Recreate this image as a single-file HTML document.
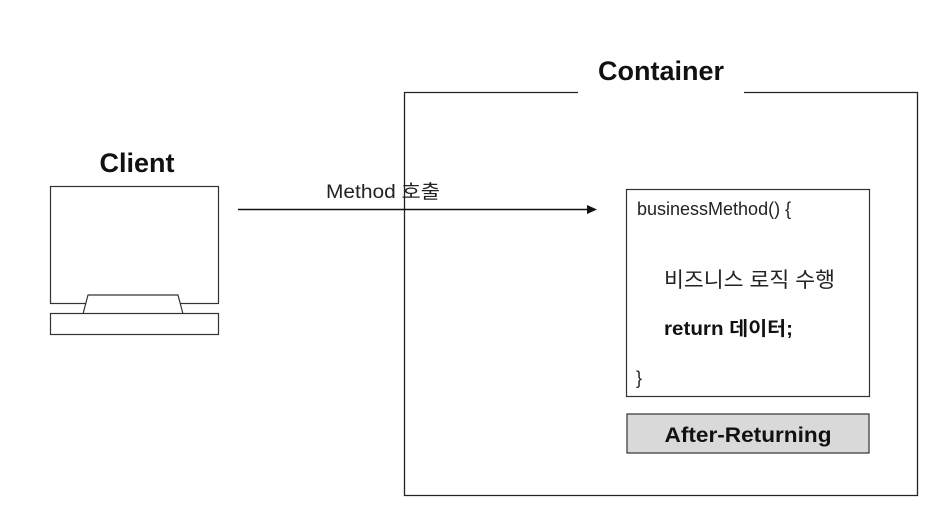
<!DOCTYPE html>
<html><head><meta charset="utf-8"><style>
body{margin:0;background:#fff;}
svg text{font-family:"Liberation Sans","Noto Sans CJK KR",sans-serif;}
</style></head><body>
<svg width="935" height="524" xmlns="http://www.w3.org/2000/svg">
<rect x="0" y="0" width="935" height="524" fill="#fff"/>
<path d="M578,92.5 H404.5 V495.5 H917.5 V92.5 H744" fill="none" stroke="#222" stroke-width="1.3"/>
<text x="661" y="80" font-size="27" font-weight="bold" text-anchor="middle" fill="#111">Container</text>
<text x="137" y="172" font-size="27" font-weight="bold" text-anchor="middle" fill="#111">Client</text>
<rect x="50.5" y="186.5" width="168" height="117" fill="none" stroke="#333" stroke-width="1.2"/>
<path d="M83,314 L88,295 H178 L183,314" fill="#fff" stroke="#333" stroke-width="1.2"/>
<rect x="50.5" y="313.5" width="168" height="21" fill="#fff" stroke="#333" stroke-width="1.2"/>
<line x1="238" y1="209.5" x2="590" y2="209.5" stroke="#111" stroke-width="1.5"/>
<path d="M597,209.5 L587,205 L587,214 Z" fill="#111"/>
<text x="326" y="198" font-size="19" fill="#222" textLength="114" lengthAdjust="spacingAndGlyphs">Method 호출</text>
<rect x="626.5" y="189.5" width="243" height="207" fill="#fff" stroke="#333" stroke-width="1.2"/>
<text x="637" y="215" font-size="18" fill="#222">businessMethod() {</text>
<text x="664" y="287" font-size="21" fill="#222" textLength="171" lengthAdjust="spacingAndGlyphs">비즈니스 로직 수행</text>
<text x="664" y="335" font-size="19" font-weight="bold" fill="#111" textLength="129" lengthAdjust="spacingAndGlyphs">return 데이터;</text>
<text x="636" y="384" font-size="18" fill="#222">}</text>
<rect x="627" y="414" width="242" height="39" fill="#d9d9d9" stroke="#333" stroke-width="1.2"/>
<text x="748" y="442" font-size="21" font-weight="bold" text-anchor="middle" fill="#111" textLength="167" lengthAdjust="spacingAndGlyphs">After-Returning</text>
</svg>
</body></html>
